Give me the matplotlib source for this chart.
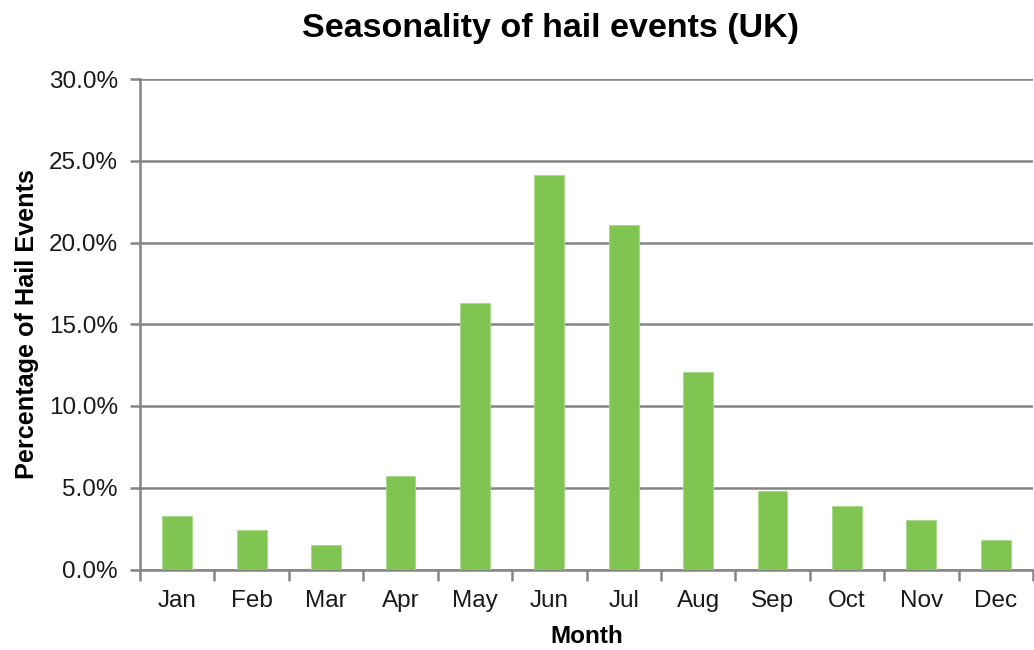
import numpy as np
import matplotlib.pyplot as plt
from matplotlib.ticker import FixedLocator, PercentFormatter

plt.rcParams['font.family'] = ['Liberation Sans', 'DejaVu Sans']

months = ['Jan', 'Feb', 'Mar', 'Apr', 'May', 'Jun', 'Jul', 'Aug', 'Sep', 'Oct', 'Nov', 'Dec']
share = [3.3, 2.4, 1.5, 5.7, 16.3, 24.1, 21.1, 12.1, 4.8, 3.9, 3.0, 1.8]  # % of hail events
yticks = [0, 5, 10, 15, 20, 25, 30]

grey = '#858585'
fig = plt.figure(figsize=(10.34, 6.5), dpi=100)
ax = fig.add_axes([140/1034, 1 - 569.5/650, 893/1034, 490.5/650])

x = np.arange(len(months))
ax.bar(x, share, width=0.4, color='#80c452', edgecolor='#a6d98a', linewidth=0.6, zorder=3)

ax.set_xlim(-0.5, len(months) - 0.5)
ax.set_ylim(0, 30)
ax.set_yticks(yticks)
ax.yaxis.set_major_formatter(PercentFormatter(decimals=1))
ax.set_xticks(x)
ax.set_xticklabels(months)
ax.xaxis.set_minor_locator(FixedLocator(np.arange(-0.5, len(months), 1.0)))

ax.grid(axis='y', color=grey, linewidth=1.8, zorder=0)
ax.tick_params(axis='x', which='major', length=0, pad=15, labelsize=17.5, labelcolor='#1a1a1a')
ax.tick_params(axis='x', which='minor', length=8, width=1.8, color=grey)
ax.tick_params(axis='y', length=7, width=1.8, color=grey, pad=9, labelsize=17.5, labelcolor='#1a1a1a')

for s in ['top', 'right']:
    ax.spines[s].set_visible(False)
for s in ['left', 'bottom']:
    ax.spines[s].set_color(grey)
    ax.spines[s].set_linewidth(1.8)

ax.set_xlabel('Month', fontsize=17.5, fontweight='bold', labelpad=9)
ax.set_ylabel('Percentage of Hail Events', fontsize=18.2, fontweight='bold', labelpad=7)
fig.text(0.532, 1 - 28/650, 'Seasonality of hail events (UK)', ha='center', va='center',
         fontsize=24.5, fontweight='bold')

fig.savefig('out.png', dpi=100)
